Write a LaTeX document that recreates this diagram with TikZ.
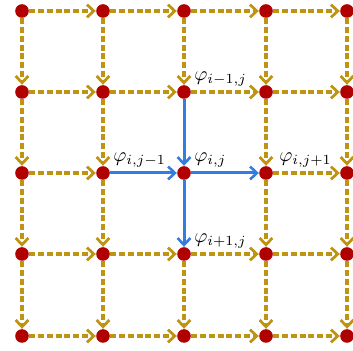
\documentclass[tikz,border=0pt]{standalone}
\usetikzlibrary{arrows.meta}
\definecolor{gold}{RGB}{190,148,18}
\definecolor{nodered}{RGB}{176,0,0}
\definecolor{flowblue}{RGB}{50,125,225}
\begin{document}
\begin{tikzpicture}[x=0.5pt,y=-0.5pt,
  pt/.style={circle,fill=nodered,inner sep=0pt,minimum size=6.8pt},
  flow/.style={gold,line width=1.7pt,dash pattern=on 3pt off 1.4pt,
    -{Straight Barb[length=3.4pt,width=6.4pt,line width=1.4pt]}},
  mainflow/.style={flowblue,line width=1.5pt,
    -{Straight Barb[length=3.4pt,width=6.4pt,line width=1.3pt]}},
  lab/.style={anchor=south west,inner sep=0pt}]
\useasboundingbox (0,0) rectangle (353,351);
\foreach \y [count=\r] in {11,92,173,254,336}
  \foreach \x [count=\c] in {22,103,184,266,347}
    \node[pt] (n\r\c) at (\x,\y) {};
% horizontal
\foreach \r in {1,...,5}
  \foreach \c in {1,...,4} {
    \pgfmathtruncatemacro\nxt{\c+1}
    \pgfmathtruncatemacro\skipit{and(\r==3,or(\c==2,\c==3))}
    \ifnum\skipit=0 \draw[flow] (n\r\c) -- (n\r\nxt); \fi
  }
% vertical
\foreach \c in {1,...,5}
  \foreach \r in {1,...,4} {
    \pgfmathtruncatemacro\nxt{\r+1}
    \pgfmathtruncatemacro\skipit{and(\c==3,or(\r==2,\r==3))}
    \ifnum\skipit=0 \draw[flow] (n\r\c) -- (n\nxt\c); \fi
  }
\draw[mainflow] (n23) -- (n33);
\draw[mainflow] (n33) -- (n43);
\draw[mainflow] (n32) -- (n33);
\draw[mainflow] (n33) -- (n34);
\node[lab] (l1) at (194,87) {$\varphi_{i-1,j}$};
\node[lab] (l2) at (194,168) {$\varphi_{i,j}$};
\node[lab] (l3) at (113,168) {$\varphi_{i,j-1}$};
\node[lab] (l4) at (279,168) {$\varphi_{i,j+1}$};
\node[lab] (l5) at (194,249) {$\varphi_{i+1,j}$};
\end{tikzpicture}
\end{document}
